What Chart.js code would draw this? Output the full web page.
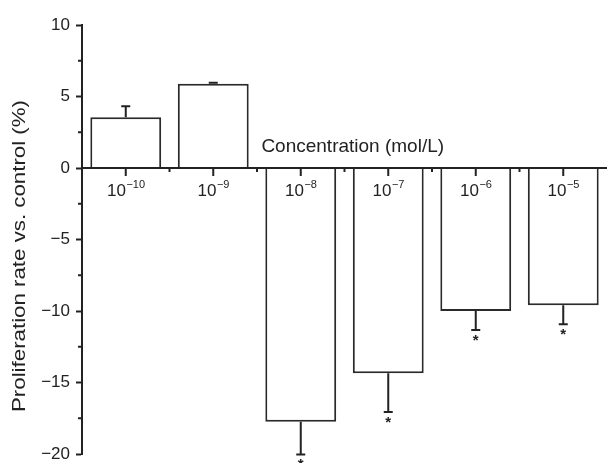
<!DOCTYPE html>
<html>
<head>
<meta charset="utf-8">
<script src="https://cdn.jsdelivr.net/npm/chart.js@4/dist/chart.umd.min.js"></script>
<style>
  html, body { margin: 0; padding: 0; background: #fff; }
  #wrap { width: 608px; height: 463px; }
</style>
</head>
<body>
<div id="wrap"><canvas id="chart" width="608" height="463"></canvas></div>
<script>
// datos
const exponents = ['−10', '−9', '−8', '−7', '−6', '−5'];
const categories = exponents.map(e => '10^' + e);
const proliferation = [3.55, 5.9, -17.75, -14.35, -10.0, -9.6];
const errors = [0.77, 0.07, 2.28, 2.72, 1.32, 1.32];
const significant = [false, false, true, true, true, true];
const yMin = -20, yMax = 10, yStep = 5;

const FONT = '"Liberation Sans", Arial, Helvetica, sans-serif';
const INK = '#222';

// Dibuja eje x en y=0, etiquetas con exponente, barras de error y asteriscos
const extras = {
    id: 'extras',
    afterDatasetsDraw(chart) {
        const ctx = chart.ctx;
        const x = chart.scales.x;
        const y = chart.scales.y;
        const area = chart.chartArea;
        const y0 = y.getPixelForValue(0);

        ctx.save();
        ctx.strokeStyle = INK;
        ctx.fillStyle = INK;

        // eje x
        ctx.lineWidth = 2;
        ctx.beginPath();
        ctx.moveTo(area.left, y0);
        ctx.lineTo(area.right, y0);
        ctx.stroke();

        // marcas principales y secundarias
        categories.forEach((c, i) => {
            const px = x.getPixelForValue(i);
            ctx.beginPath();
            ctx.moveTo(px, y0);
            ctx.lineTo(px, y0 + 8);
            ctx.stroke();
            if (i < categories.length - 1) {
                const mx = (px + x.getPixelForValue(i + 1)) / 2;
                ctx.beginPath();
                ctx.moveTo(mx, y0);
                ctx.lineTo(mx, y0 + 4);
                ctx.stroke();
            }
        });

        // marcas secundarias del eje y
        for (let v = yMin + yStep / 2; v < yMax; v += yStep) {
            const py = y.getPixelForValue(v);
            ctx.beginPath();
            ctx.moveTo(area.left, py);
            ctx.lineTo(area.left - 4, py);
            ctx.stroke();
        }

        // etiquetas 10^n
        ctx.textBaseline = 'alphabetic';
        ctx.textAlign = 'left';
        exponents.forEach((e, i) => {
            const px = x.getPixelForValue(i);
            ctx.font = '17px ' + FONT;
            const wb = ctx.measureText('10').width;
            ctx.font = '11px ' + FONT;
            const we = ctx.measureText(e).width;
            const left = px - (wb + we) / 2;
            ctx.font = '17px ' + FONT;
            ctx.fillText('10', left, y0 + 28);
            ctx.font = '11px ' + FONT;
            ctx.fillText(e, left + wb + 0.5, y0 + 20);
        });

        // barras de error
        ctx.lineWidth = 2;
        proliferation.forEach((v, i) => {
            const px = x.getPixelForValue(i);
            const end = v >= 0 ? v + errors[i] : v - errors[i];
            const pv = y.getPixelForValue(v);
            const pe = y.getPixelForValue(end);
            ctx.beginPath();
            ctx.moveTo(px, pv);
            ctx.lineTo(px, pe);
            ctx.moveTo(px - 4.5, pe);
            ctx.lineTo(px + 4.5, pe);
            ctx.stroke();

            if (significant[i]) {
                ctx.font = 'bold 15px ' + FONT;
                ctx.textAlign = 'center';
                ctx.fillText('*', px, pe + 15);
                ctx.textAlign = 'left';
            }
        });

        // titulo del eje x, sobre el eje
        ctx.font = '19px ' + FONT;
        ctx.textAlign = 'left';
        const tx = x.getPixelForValue(1) + 0.55 * (x.getPixelForValue(2) - x.getPixelForValue(1));
        ctx.fillText('Concentration (mol/L)', tx, y.getPixelForValue(1.1));

        // titulo del eje y
        const title = 'Proliferation rate vs. control (%)';
        ctx.font = '18px ' + FONT;
        const tw = ctx.measureText(title).width;
        ctx.translate(20, 256);
        ctx.rotate(-Math.PI / 2);
        ctx.scale(312 / tw, 1);
        ctx.textAlign = 'center';
        ctx.textBaseline = 'middle';
        ctx.fillText(title, 0, 0);

        ctx.restore();
    }
};

const ctx = document.getElementById('chart').getContext('2d');
const chart = new Chart(ctx, {
    type: 'bar',
    data: {
        labels: categories,
        datasets: [{
            data: proliferation,
            backgroundColor: '#fff',
            borderColor: '#2a2a2a',
            borderWidth: 2,
            categoryPercentage: 1,
            barPercentage: 0.81
        }]
    },
    options: {
        responsive: false,
        animation: false,
        layout: { padding: { top: 25, right: 1, bottom: 9, left: 0 } },
        plugins: {
            legend: { display: false },
            tooltip: { enabled: false }
        },
        scales: {
            x: {
                type: 'category',
                display: false,
                offset: true
            },
            y: {
                min: yMin,
                max: yMax,
                afterFit: scale => {
                    scale.width = 82;
                    scale.paddingTop = 0;
                    scale.paddingBottom = 0;
                },
                border: { display: true, color: INK, width: 2 },
                grid: {
                    drawOnChartArea: false,
                    drawTicks: true,
                    tickLength: 6,
                    tickColor: INK,
                    tickWidth: 2
                },
                ticks: {
                    stepSize: yStep,
                    padding: 6,
                    color: INK,
                    font: { family: FONT, size: 17, lineHeight: 1 },
                    callback: v => String(v).replace('-', '−')
                }
            }
        }
    },
    plugins: [extras]
});
</script>
</body>
</html>
